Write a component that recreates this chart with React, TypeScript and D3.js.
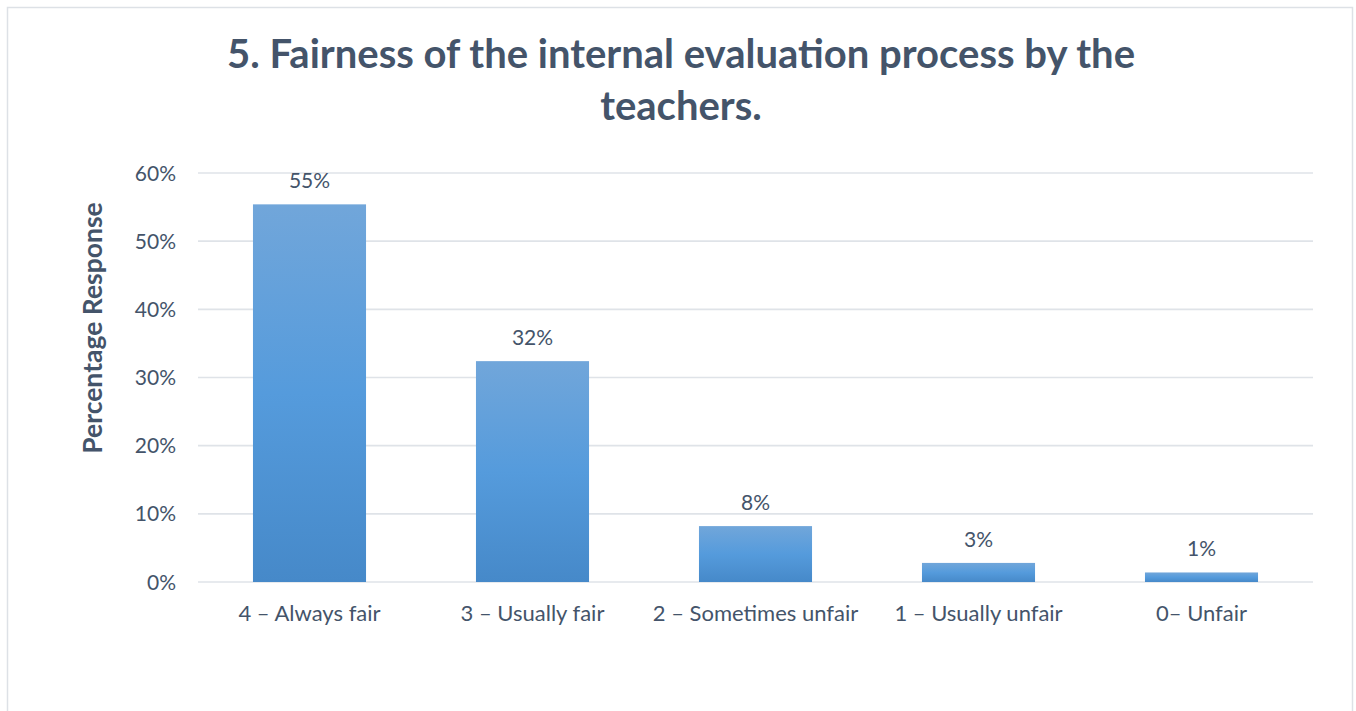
import React from "react";
import * as d3 from "d3";

const categories = ["4 – Always fair", "3 – Usually fair", "2 – Sometimes unfair", "1 – Usually unfair", "0– Unfair"];
const values = [55.4, 32.4, 8.2, 2.8, 1.4];
const yTicks = [0, 10, 20, 30, 40, 50, 60];
const titleLines = ["5. Fairness of the internal evaluation process by the", "teachers."];
const yAxisTitle = "Percentage Response";

const W = 1356;
const H = 711;
const plot = { left: 198, right: 1313, top: 173, bottom: 582 };
const textColor = "#44546a";
const font = "Lato, 'Open Sans', sans-serif";

export default function App() {
  const x = d3
    .scaleBand<string>()
    .domain(categories)
    .range([plot.left, plot.right])
    .paddingInner(0.493)
    .paddingOuter(0.2465);
  const y = d3.scaleLinear().domain([0, 60]).range([plot.bottom, plot.top]);

  return (
    <svg
      width={W}
      height={H}
      style={{ position: "absolute", left: 0, top: 0, background: "#fff" }}
    >
      <defs>
        <linearGradient id="barGrad" x1="0" y1="0" x2="0" y2="1">
          <stop offset="0%" stopColor="#71a6da" />
          <stop offset="50%" stopColor="#559bdc" />
          <stop offset="100%" stopColor="#4689c9" />
        </linearGradient>
      </defs>
      <rect x={0} y={0} width={W} height={H} fill="#fff" />
      <rect x={7.5} y={7.5} width={1345} height={720} fill="#fff" stroke="#dde1e6" strokeWidth={1.5} />

      {titleLines.map((t, i) => (
        <text
          key={i}
          x={681}
          y={68 + i * 52}
          textAnchor="middle"
          fontFamily={font}
          fontWeight={700}
          fontSize={40}
          fill={textColor}
        >
          {t}
        </text>
      ))}

      {yTicks.map((t) => (
        <g key={t}>
          <line
            x1={plot.left}
            x2={plot.right}
            y1={y(t)}
            y2={y(t)}
            stroke="#dfe3e8"
            strokeWidth={1.6}
          />
          <text
            x={176}
            y={y(t) + 7.5}
            textAnchor="end"
            fontFamily={font}
            fontSize={21}
            fill={textColor}
          >
            {t}%
          </text>
        </g>
      ))}

      {categories.map((c, i) => (
        <g key={c}>
          <rect
            x={x(c)!}
            y={y(values[i])}
            width={x.bandwidth()}
            height={y(0) - y(values[i])}
            fill="url(#barGrad)"
          />
          <text
            x={x(c)! + x.bandwidth() / 2}
            y={y(values[i]) - 16}
            textAnchor="middle"
            fontFamily={font}
            fontSize={21}
            fill={textColor}
          >
            {Math.round(values[i])}%
          </text>
          <text
            x={x(c)! + x.bandwidth() / 2}
            y={621}
            textAnchor="middle"
            fontFamily={font}
            fontSize={22}
            fill={textColor}
          >
            {c}
          </text>
        </g>
      ))}

      <text
        transform={`translate(102, 328) rotate(-90)`}
        textAnchor="middle"
        fontFamily={font}
        fontWeight={700}
        fontSize={26.5}
        fill={textColor}
      >
        {yAxisTitle}
      </text>
    </svg>
  );
}
